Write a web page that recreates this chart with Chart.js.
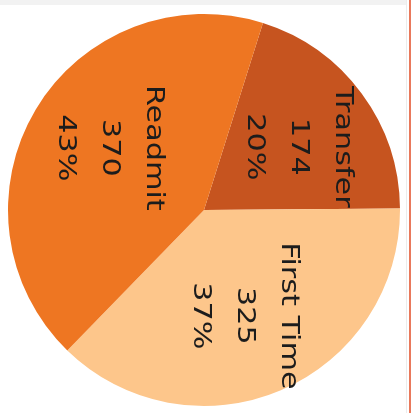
<!DOCTYPE html>
<html>
<head>
<meta charset="utf-8">
<script src="https://cdn.jsdelivr.net/npm/chart.js@4/dist/chart.umd.min.js"></script>
<style>
  html, body { margin: 0; padding: 0; background: #fff; }
  #wrap { position: relative; width: 411px; height: 413px; overflow: hidden; }
  #topband { position: absolute; left: 0; top: 0; width: 406px; height: 5px; background: #f2f2f2; }
  #edge1 { position: absolute; left: 406px; top: 0; width: 1px; height: 413px; background: #ececec; }
  #edge2 { position: absolute; left: 409px; top: 0; width: 2px; height: 413px; background: #e9795c; }
  canvas { position: absolute; left: 0; top: 0; }
</style>
</head>
<body>
<div id="wrap">
  <div id="topband"></div>
  <div id="edge1"></div>
  <div id="edge2"></div>
  <canvas id="pieChart" width="411" height="413"></canvas>
</div>
<script>
// données du graphique
const categories = ['Transfer', 'First Time', 'Readmit'];
const counts = [174, 325, 370];
const sliceColors = ['#c6541f', '#fdc68b', '#ee7622'];

const total = counts.reduce((a, b) => a + b, 0);

// étiquettes tournées à 90° dans chaque part (texte un peu étiré comme dans l'original)
const rotatedLabels = {
    id: 'rotatedLabels',
    afterDatasetsDraw(chart) {
        const ctx = chart.ctx;
        const meta = chart.getDatasetMeta(0);
        meta.data.forEach((arc, i) => {
            const p = arc.getProps(['x', 'y', 'startAngle', 'endAngle', 'outerRadius'], true);
            const mid = (p.startAngle + p.endAngle) / 2 + 2.5 * Math.PI / 180;
            const r = p.outerRadius * 0.577;
            const x = p.x + Math.cos(mid) * r;
            const y = p.y + Math.sin(mid) * r;
            const lines = [categories[i], String(counts[i]), Math.round(counts[i] / total * 100) + '%'];
            ctx.save();
            ctx.translate(x, y);
            ctx.rotate(Math.PI / 2);
            ctx.scale(1.26, 1);
            ctx.font = '24px "DejaVu Sans"';
            ctx.fillStyle = '#1c1c1c';
            ctx.textAlign = 'center';
            ctx.textBaseline = 'middle';
            lines.forEach((t, k) => {
                ctx.fillText(t, 0, (k - 1) * 44);
            });
            ctx.restore();
        });
    }
};

const ctx = document.getElementById('pieChart').getContext('2d');
const pieChart = new Chart(ctx, {
    type: 'pie',
    data: {
        labels: categories,
        datasets: [{
            data: counts,
            backgroundColor: sliceColors,
            borderWidth: 0
        }]
    },
    options: {
        responsive: false,
        animation: false,
        rotation: 17.5,
        layout: {
            padding: { left: 8, right: 11, top: 14, bottom: 7 }
        },
        plugins: {
            legend: { display: false },
            tooltip: { enabled: false }
        }
    },
    plugins: [rotatedLabels]
});
</script>
</body>
</html>
